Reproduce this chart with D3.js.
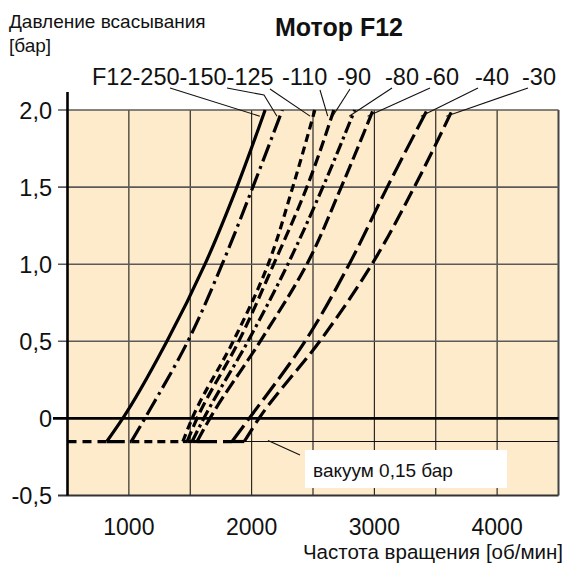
<!DOCTYPE html>
<html><head><meta charset="utf-8">
<script src="https://cdn.jsdelivr.net/npm/d3@7/dist/d3.min.js"></script>
<style>
html,body{margin:0;padding:0;background:#fff;}
text{font-family:"Liberation Sans",Arial,Helvetica,sans-serif;fill:#111;}
</style></head>
<body>
<svg id="chart" width="566" height="565"></svg>
<script>
// ---------- data ----------
const pressures = [-0.15, 0, 0.5, 1.0, 1.5, 2.0];           // bar
const motorNames = ["F12-250","F12-150","F12-125","F12-110/-90","F12-80","F12-60","F12-40","F12-30"];
const rpm250 = [820, 950, 1310, 1620, 1880, 2110];
const rpm150 = [1020, 1130, 1480, 1760, 2010, 2250];
const rpm125 = [1440, 1515, 1850, 2135, 2335, 2515];
const rpm110 = [1475, 1555, 1895, 2180, 2450, 2670];
const rpm80  = [1515, 1610, 1970, 2295, 2580, 2840];
const rpm60  = [1555, 1660, 2070, 2450, 2730, 2990];
const rpm40  = [1840, 1980, 2435, 2795, 3105, 3430];
const rpm30  = [1940, 2060, 2555, 2980, 3325, 3635];
const seriesRpm = [rpm250, rpm150, rpm125, rpm110, rpm80, rpm60, rpm40, rpm30];
const labelTexts = ["F12-250","-150","-125","-110","-90","-80","-60","-40","-30"];
const labelCurve = [0,1,2,3,3,4,5,6,7];
const xTicks = [1000, 2000, 3000, 4000];
const xGrid = [1000, 1500, 2000, 2500, 3000, 3500, 4000];
const yTicks = [2.0, 1.5, 1.0, 0.5, 0, -0.5];
const yTickLabels = ["2,0", "1,5", "1,0", "0,5", "0", "-0,5"];
const vacuum = -0.15;
const vacuumLabel = "вакуум 0,15 бар";
const title = "Мотор F12";
const yTitle = ["Давление всасывания", "[бар]"];
const xTitle = "Частота вращения [об/мин]";

// ---------- layout ----------
const svg = d3.select("#chart");
const x = d3.scaleLinear().domain([500, 4500]).range([67.5, 558.5]);
const y = d3.scaleLinear().domain([-0.5, 2.0]).range([495.5, 110]);
const dashes = [null, "18 5 3 5", "8 5", "11 5", "12 4 3 4", "14 5", "20 6", "16 6"];

// plot background
svg.append("rect").attr("x", x(500)).attr("y", y(2)).attr("width", x(4500)-x(500)).attr("height", y(-0.5)-y(2)).attr("fill", "#FEEBCC");

// vertical grid
svg.selectAll(".vg").data(xGrid).join("line")
  .attr("x1", d=>x(d)).attr("x2", d=>x(d)).attr("y1", y(2)).attr("y2", y(-0.5))
  .attr("stroke", "#1a1a1a").attr("stroke-width", 1.1);
svg.append("line").attr("x1", x(4500)).attr("x2", x(4500)).attr("y1", y(2)).attr("y2", y(-0.5))
  .attr("stroke", "#444").attr("stroke-width", 2);

// horizontal grid + ticks
svg.selectAll(".hg").data(yTicks.filter(d=>d!==0)).join("line")
  .attr("x1", 58).attr("x2", x(4500)).attr("y1", d=>y(d)).attr("y2", d=>y(d))
  .attr("stroke", d => d===-0.5 ? "#333" : "#5a5a5a").attr("stroke-width", d => d===-0.5 ? 2 : 1.6);
svg.append("line").attr("x1", 53).attr("x2", x(4500)).attr("y1", y(0)).attr("y2", y(0))
  .attr("stroke", "#000").attr("stroke-width", 2.6);

// thin vacuum reference line
svg.append("line").attr("x1", x(rpm30[0])).attr("x2", x(4500)).attr("y1", y(vacuum)).attr("y2", y(vacuum))
  .attr("stroke", "#111").attr("stroke-width", 1.1);

// left axis
svg.append("line").attr("x1", x(500)).attr("x2", x(500)).attr("y1", 92).attr("y2", y(-0.5))
  .attr("stroke", "#000").attr("stroke-width", 2.6);

// y tick labels
svg.selectAll(".yl").data(yTicks).join("text")
  .attr("x", 52).attr("y", d=>y(d)+8.5).attr("text-anchor", "end")
  .attr("font-size", 23.5).text((d,i)=>yTickLabels[i]);
// x tick labels
svg.selectAll(".xl").data(xTicks).join("text")
  .attr("x", d=>x(d)).attr("y", 535).attr("text-anchor", "middle")
  .attr("font-size", 23).text(d=>d);

// horizontal vacuum segments (each curve from previous foot to its own foot)
seriesRpm.forEach((r, i) => {
  const start = i === 0 ? 500 : seriesRpm[i-1][0];
  svg.append("line")
    .attr("x1", x(start)).attr("x2", x(r[0])).attr("y1", y(vacuum)).attr("y2", y(vacuum))
    .attr("stroke", "#000").attr("stroke-width", 3.2)
    .attr("stroke-dasharray", i === 0 ? "9 6" : dashes[i]);
});

// curves
const line = d3.line().x(d=>x(d[0])).y(d=>y(d[1])).curve(d3.curveMonotoneY);
seriesRpm.forEach((r, i) => {
  const pts = r.map((v, k) => [v, pressures[k]]);
  svg.append("path").attr("d", line(pts)).attr("fill", "none")
    .attr("stroke", "#000").attr("stroke-width", 3.2)
    .attr("stroke-dasharray", dashes[i]);
});

// curve labels and leaders
const labelX = [92, null, null, 282, 337, 385, 425, 475, 522];
const leadStart = [[170,88],[227,88],[270,89],[320,90],[350,89],[392,88],[430,88],[478,88],[528,88]];
const endOff = [-3, -3, -3, -4, 1, -3, -3, -3, -3];
const rpmAt = (r, p) => {
  for (let k = 1; k < pressures.length; k++) {
    if (p <= pressures[k]) { const t = (p - pressures[k-1])/(pressures[k]-pressures[k-1]); return r[k-1] + t*(r[k]-r[k-1]); }
  }
  return r[r.length-1];
};
let cursor = 0;
labelTexts.forEach((t, i) => {
  const lx = labelX[i] !== null ? labelX[i] : cursor;
  const el = svg.append("text").attr("x", lx).attr("y", 85).attr("font-size", 23.5).text(t);
  cursor = lx + el.node().getComputedTextLength();
  const r = seriesRpm[labelCurve[i]];
  const pEnd = 1.96;
  const ex = x(rpmAt(r, pEnd)) + endOff[i], ey = y(pEnd);
  const pts = i === 1 ? [leadStart[i], [264, 95], [ex, ey]] : [leadStart[i], [ex, ey]];
  svg.append("path").attr("d", d3.line()(pts)).attr("fill", "none").attr("stroke", "#111").attr("stroke-width", 1.1);
});

// vacuum label box
svg.append("line").attr("x1", 268).attr("y1", y(vacuum)-1).attr("x2", 300).attr("y2", 455)
  .attr("stroke", "#111").attr("stroke-width", 1.1);
svg.append("rect").attr("x", 305).attr("y", 450).attr("width", 202).attr("height", 38).attr("fill", "#fff");
svg.append("text").attr("x", 313).attr("y", 477).attr("font-size", 19).text(vacuumLabel);

// titles
svg.append("text").attr("x", 339).attr("y", 36).attr("text-anchor", "middle")
  .attr("font-size", 25).attr("font-weight", "bold").text(title);
svg.append("text").attr("x", 9).attr("y", 28).attr("font-size", 19).text(yTitle[0]);
svg.append("text").attr("x", 9).attr("y", 52).attr("font-size", 19).text(yTitle[1]);
svg.append("text").attr("x", 563).attr("y", 559).attr("text-anchor", "end").attr("font-size", 20.5).text(xTitle);
</script>
</body></html>
